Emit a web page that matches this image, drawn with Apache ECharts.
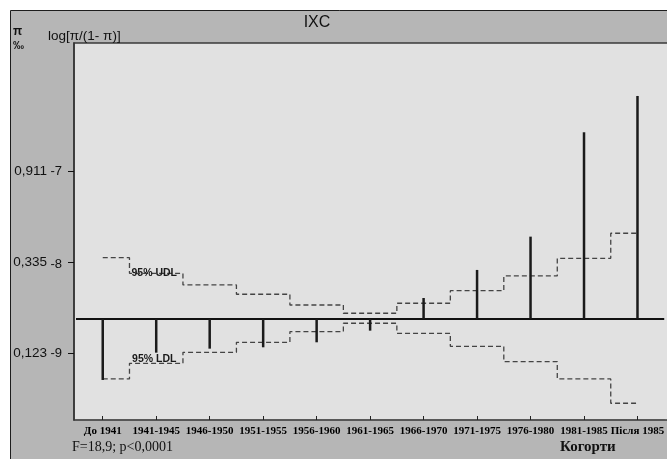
<!DOCTYPE html>
<html>
<head>
<meta charset="utf-8">
<script src="https://cdn.jsdelivr.net/npm/echarts@6/dist/echarts.min.js"></script>
<style>
  html, body { margin: 0; padding: 0; background: #ffffff; }
  #chart { width: 667px; height: 459px; }
</style>
</head>
<body>
<div id="chart"></div>
<script>
// Birth cohorts
const cohorts = ['До 1941', '1941-1945', '1946-1950', '1951-1955', '1956-1960',
  '1961-1965', '1966-1970', '1971-1975', '1976-1980', '1981-1985', 'Після 1985'];

// log[π/(1-π)] per cohort
const logitValues = [-9.293, -8.993, -8.949, -8.934, -8.879, -8.751, -8.392, -8.084, -7.718, -6.571, -6.172];

// 95% upper and lower decision limits
const udl = [-7.949, -8.121, -8.249, -8.351, -8.469, -8.560, -8.450, -8.312, -8.150, -7.956, -7.681];
const ldl = [-9.282, -9.110, -8.989, -8.879, -8.762, -8.670, -8.780, -8.923, -9.092, -9.282, -9.549];

// Overall level (centre line)
const centreLine = -8.623;

// Y tick positions (logit) and their π, ‰ counterparts
const tickLogit = [-9, -8, -7];
const tickPi = ['0,123', '0,335', '0,911'];

const chart = echarts.init(document.getElementById('chart'), null, { renderer: 'canvas' });

const serif = '"Liberation Serif", "Times New Roman", serif';
const sans = '"Liberation Sans", Arial, sans-serif';

// Step line for a decision limit, with its caption attached to the second cohort
function limitSeries(name, values, caption, offset) {
  return {
    name: name,
    type: 'line',
    step: 'middle',
    data: values.map(function (v, i) {
      return i === 1
        ? { value: v, label: { show: true, formatter: caption, position: 'top', distance: 0, offset: offset,
            fontFamily: sans, fontSize: 10.5, fontWeight: 'bold', color: '#1a1a1a' } }
        : v;
    }),
    symbol: 'circle',
    symbolSize: 0,
    showSymbol: true,
    z: 3,
    itemStyle: { color: 'rgba(0,0,0,0)' },
    lineStyle: { color: '#444', width: 1.3, type: [5, 3] },
    label: { show: false }
  };
}

chart.setOption({
  animation: false,
  backgroundColor: '#ffffff',
  graphic: [
    { type: 'rect', z: -20, shape: { x: 10.5, y: 10.5, width: 680, height: 470 },
      style: { fill: '#b6b6b6', stroke: '#1e1e1e', lineWidth: 1 } },
    { type: 'rect', z: -10, shape: { x: 74, y: 43, width: 620, height: 377 },
      style: { fill: '#e1e1e1', stroke: '#3a3a3a', lineWidth: 1.5 } },
    { type: 'text', z: 10, x: 317, y: 23,
      style: { text: 'IXC', font: '16px ' + sans, fill: '#111', align: 'center', verticalAlign: 'middle' } },
    { type: 'text', z: 10, x: 13, y: 32,
      style: { text: 'π', font: 'bold 12px ' + sans, fill: '#111', verticalAlign: 'middle' } },
    { type: 'text', z: 10, x: 13, y: 46,
      style: { text: '‰', font: 'bold 11px ' + sans, fill: '#111', verticalAlign: 'middle' } },
    { type: 'text', z: 10, x: 48, y: 36,
      style: { text: 'log[π/(1- π)]', font: '13.5px ' + sans, fill: '#111', verticalAlign: 'middle' } },
    { type: 'text', z: 10, x: 72, y: 447,
      style: { text: 'F=18,9; p<0,0001', font: '14px ' + serif, fill: '#111', verticalAlign: 'middle' } },
    { type: 'text', z: 10, x: 560, y: 447,
      style: { text: 'Когорти', font: 'bold 15px ' + serif, fill: '#111', verticalAlign: 'middle' } }
  ],
  grid: { left: 76, top: 43, width: 592, height: 377, containLabel: false },
  xAxis: {
    type: 'category',
    data: cohorts,
    boundaryGap: true,
    axisLine: { show: true, lineStyle: { color: '#555', width: 1.5 } },
    axisTick: { show: true, inside: true, length: 4, alignWithLabel: true, lineStyle: { color: '#222' } },
    axisLabel: { show: true, interval: 0, margin: 6, color: '#000', fontFamily: serif, fontSize: 11, fontWeight: 'bold' },
    splitLine: { show: false }
  },
  yAxis: {
    type: 'value',
    min: -9.733,
    max: -5.590,
    offset: 2,
    axisLine: { show: true, lineStyle: { color: '#333', width: 1.5 } },
    axisTick: { show: true, length: 6, customValues: tickLogit, lineStyle: { color: '#111' } },
    axisLabel: {
      show: true,
      customValues: tickLogit,
      margin: 12,
      formatter: function (v) {
        const i = tickLogit.indexOf(Math.round(v));
        const b = Math.round(v) === -8 ? 'c' : 'b';
        return '{a|' + tickPi[i] + '} {' + b + '|' + Math.round(v) + '}';
      },
      rich: {
        a: { fontFamily: sans, fontSize: 13.5, color: '#111' },
        b: { fontFamily: sans, fontSize: 13, color: '#111' },
        c: { fontFamily: sans, fontSize: 13, color: '#111', padding: [5, 0, 0, 0] }
      }
    },
    splitLine: { show: false }
  },
  series: [
    limitSeries('UDL', udl, '95% UDL', [-2, 5]),
    limitSeries('LDL', ldl, '95% LDL', [-2, 1]),
    {
      name: 'logit',
      type: 'custom',
      z: 5,
      data: logitValues.map(function (v, i) { return [i, v]; }),
      renderItem: function (params, api) {
        const from = api.coord([api.value(0), centreLine]);
        const to = api.coord([api.value(0), api.value(1)]);
        return {
          type: 'line',
          shape: { x1: from[0], y1: from[1], x2: to[0], y2: to[1] },
          style: { stroke: '#1a1a1a', lineWidth: 2.5 }
        };
      },
      markLine: {
        silent: true,
        symbol: 'none',
        label: { show: false },
        lineStyle: { color: '#111', width: 2.2, type: 'solid' },
        data: [{ yAxis: centreLine }]
      }
    }
  ]
});
</script>
</body>
</html>
